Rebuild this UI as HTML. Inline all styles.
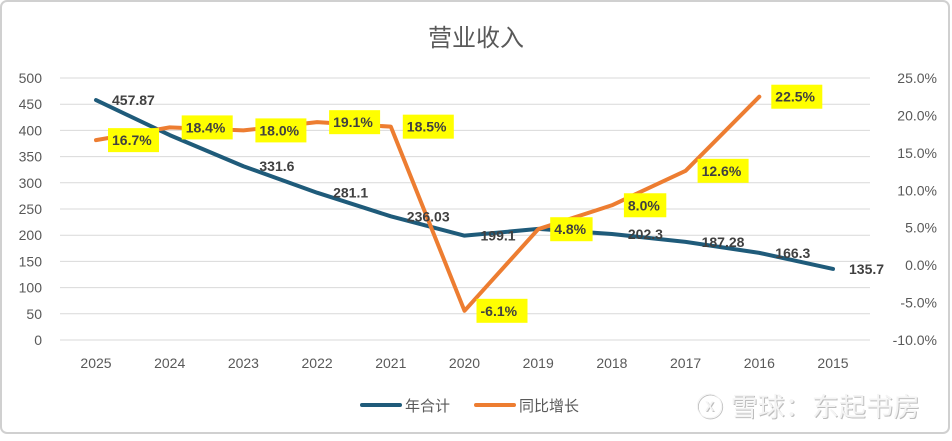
<!DOCTYPE html>
<html><head><meta charset="utf-8"><style>
body{margin:0;background:#fff;}
svg text{font-family:"Liberation Sans","Noto Sans CJK SC",sans-serif;}
</style></head><body>
<svg id="c" width="952" height="436" xmlns="http://www.w3.org/2000/svg">
<rect x="1" y="1" width="948" height="432" rx="6" fill="#fff" stroke="#d0d0d0" stroke-width="2"/>
<text x="476" y="46" text-anchor="middle" font-size="24" fill="#595959">营业收入</text>
<g id="grid"></g><g id="lines"></g><g id="labels"></g>
<g>
<line x1="362" y1="405" x2="400" y2="405" stroke="#1f5b7a" stroke-width="4" stroke-linecap="round"/>
<text x="405" y="411" font-size="15" fill="#595959">年合计</text>
<line x1="476" y1="405" x2="514" y2="405" stroke="#ed7d31" stroke-width="4" stroke-linecap="round"/>
<text x="519" y="411" font-size="15" fill="#595959">同比增长</text>
</g>
<text x="697" y="417" font-size="26" fill="#bdbdbd" textLength="224" lengthAdjust="spacingAndGlyphs">ⓧ 雪球：东起书房</text>
<text x="696" y="416" font-size="26" fill="#f4f4f4" textLength="224" lengthAdjust="spacingAndGlyphs">ⓧ 雪球：东起书房</text>
</svg>
<script>
const categories=["2025","2024","2023","2022","2021","2020","2019","2018","2017","2016","2015"];
const totals=[457.87,391,331.6,281.1,236.03,199.1,212,202.3,187.28,166.3,135.7];
const totalLabels=["457.87","","331.6","281.1","236.03","199.1","","202.3","187.28","166.3","135.7"];
const growth=[16.7,18.4,18.0,19.1,18.5,-6.1,4.8,8.0,12.6,22.5,null];
const leftTicks=[0,50,100,150,200,250,300,350,400,450,500];
const rightTicks=[-10,-5,0,5,10,15,20,25];
const NS="http://www.w3.org/2000/svg";
const x=i=>96+i*73.7;
const yL=v=>340-v/500*262;
const yR=v=>340-(v+10)/35*262;
function mk(t,a,p,txt){const e=document.createElementNS(NS,t);for(const k in a)e.setAttribute(k,a[k]);if(txt!==undefined)e.textContent=txt;p.appendChild(e);return e;}
const grid=document.getElementById('grid'),lines=document.getElementById('lines'),labels=document.getElementById('labels');
leftTicks.forEach(v=>{
 const l=mk('line',{x1:60,x2:870,y1:yL(v),y2:yL(v),stroke:'#d9d9d9','stroke-width':1},grid);
 
 
 const t=mk('text',{x:42,y:yL(v)+5,'text-anchor':'end','font-size':14,fill:'#595959'},grid,String(v));
 
 
});
rightTicks.forEach(v=>{
 const t=mk('text',{x:937,y:yR(v)+5,'text-anchor':'end','font-size':14,fill:'#595959'},grid,v.toFixed(1)+'%');
 
 
});
categories.forEach((c,i)=>{
 const t=mk('text',{x:x(i),y:368,'text-anchor':'middle','font-size':14,fill:'#595959'},grid,c);
 
 
});
const bp=mk('polyline',{points:totals.map((v,i)=>x(i)+','+yL(v)).join(' '),fill:'none',stroke:'#1f5b7a','stroke-width':4,'stroke-linejoin':'round','stroke-linecap':'round'},lines);


const gp=growth.map((v,i)=>v===null?null:x(i)+','+yR(v)).filter(p=>p);
const op=mk('polyline',{points:gp.join(' '),fill:'none',stroke:'#ed7d31','stroke-width':4,'stroke-linejoin':'round','stroke-linecap':'round'},lines);


totals.forEach((v,i)=>{
 if(!totalLabels[i])return;
 const t=mk('text',{x:x(i)+16,y:yL(v)+5,'font-size':14,'font-weight':'bold',fill:'#404040'},labels,totalLabels[i]);
 
 
});
growth.forEach((v,i)=>{
 if(v===null)return;
 const s=v.toFixed(1)+'%';
 const w=s.length*8.6+8;
 const r=mk('rect',{x:x(i)+12,y:yR(v)-12,width:w,height:24,fill:'#ffff00'},labels);
 
 
 const t=mk('text',{x:x(i)+16,y:yR(v)+5,'font-size':14,'font-weight':'bold',fill:'#404040'},labels,s);
 
 
});
</script>
</body></html>
